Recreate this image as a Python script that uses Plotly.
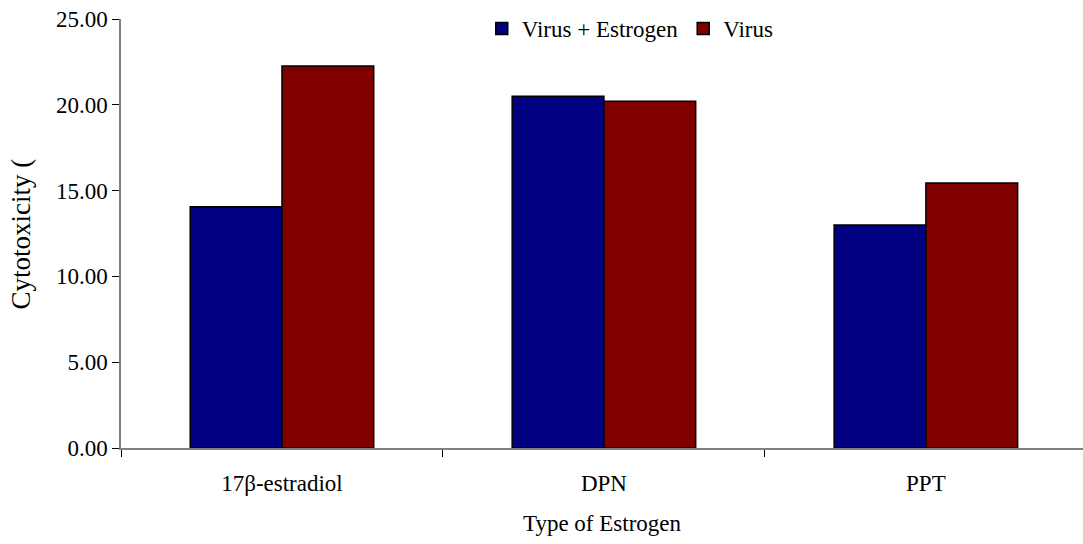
import plotly.graph_objects as go

categories = ["17β-estradiol", "DPN", "PPT"]
virus_estrogen = [14.06, 20.5, 13.0]
virus = [22.26, 20.2, 15.45]
tick_vals = [0, 5, 10, 15, 20, 25]
tick_text = ["0.00", "5.00", "10.00", "15.00", "20.00", "25.00"]

FONT = "Liberation Serif, Times New Roman, serif"

fig = go.Figure()
fig.add_trace(go.Bar(name="Virus + Estrogen", x=categories, y=virus_estrogen,
                     marker=dict(color="#000080", line=dict(color="#000000", width=1.5))))
fig.add_trace(go.Bar(name="Virus", x=categories, y=virus,
                     marker=dict(color="#800000", line=dict(color="#000000", width=1.5))))

fig.update_layout(
    width=1083, height=544,
    margin=dict(l=121, r=0, t=19, b=96),
    paper_bgcolor="white", plot_bgcolor="white",
    barmode="group", bargap=0.43, bargroupgap=0,
    font=dict(family=FONT, size=23, color="black"),
    legend=dict(orientation="h", x=0.375, y=1.028, xanchor="left", yanchor="top",
                font=dict(family=FONT, size=23), bgcolor="rgba(0,0,0,0)",
                itemwidth=30, tracegroupgap=0),
    xaxis=dict(title=dict(text="Type of Estrogen", standoff=20, font=dict(size=23)),
               range=[-0.5, 2.488],
               showline=True, linecolor="#808080", linewidth=1.5,
               ticks="outside", tickson="boundaries", ticklen=7, tickcolor="black",
               ticklabelstandoff=14,
               showgrid=False, zeroline=False),
    yaxis=dict(range=[0, 25], tickvals=tick_vals, ticktext=tick_text,
               showline=True, linecolor="#808080", linewidth=1.5,
               ticks="outside", ticklen=7, tickcolor="black",
               showgrid=False, zeroline=False),
    annotations=[dict(text="Cytotoxicity (", textangle=-90, xref="paper", yref="paper",
                      x=-0.104, y=0.5, xanchor="center", yanchor="middle",
                      showarrow=False, font=dict(family=FONT, size=27, color="black"))],
)

fig.write_html("out.html")
